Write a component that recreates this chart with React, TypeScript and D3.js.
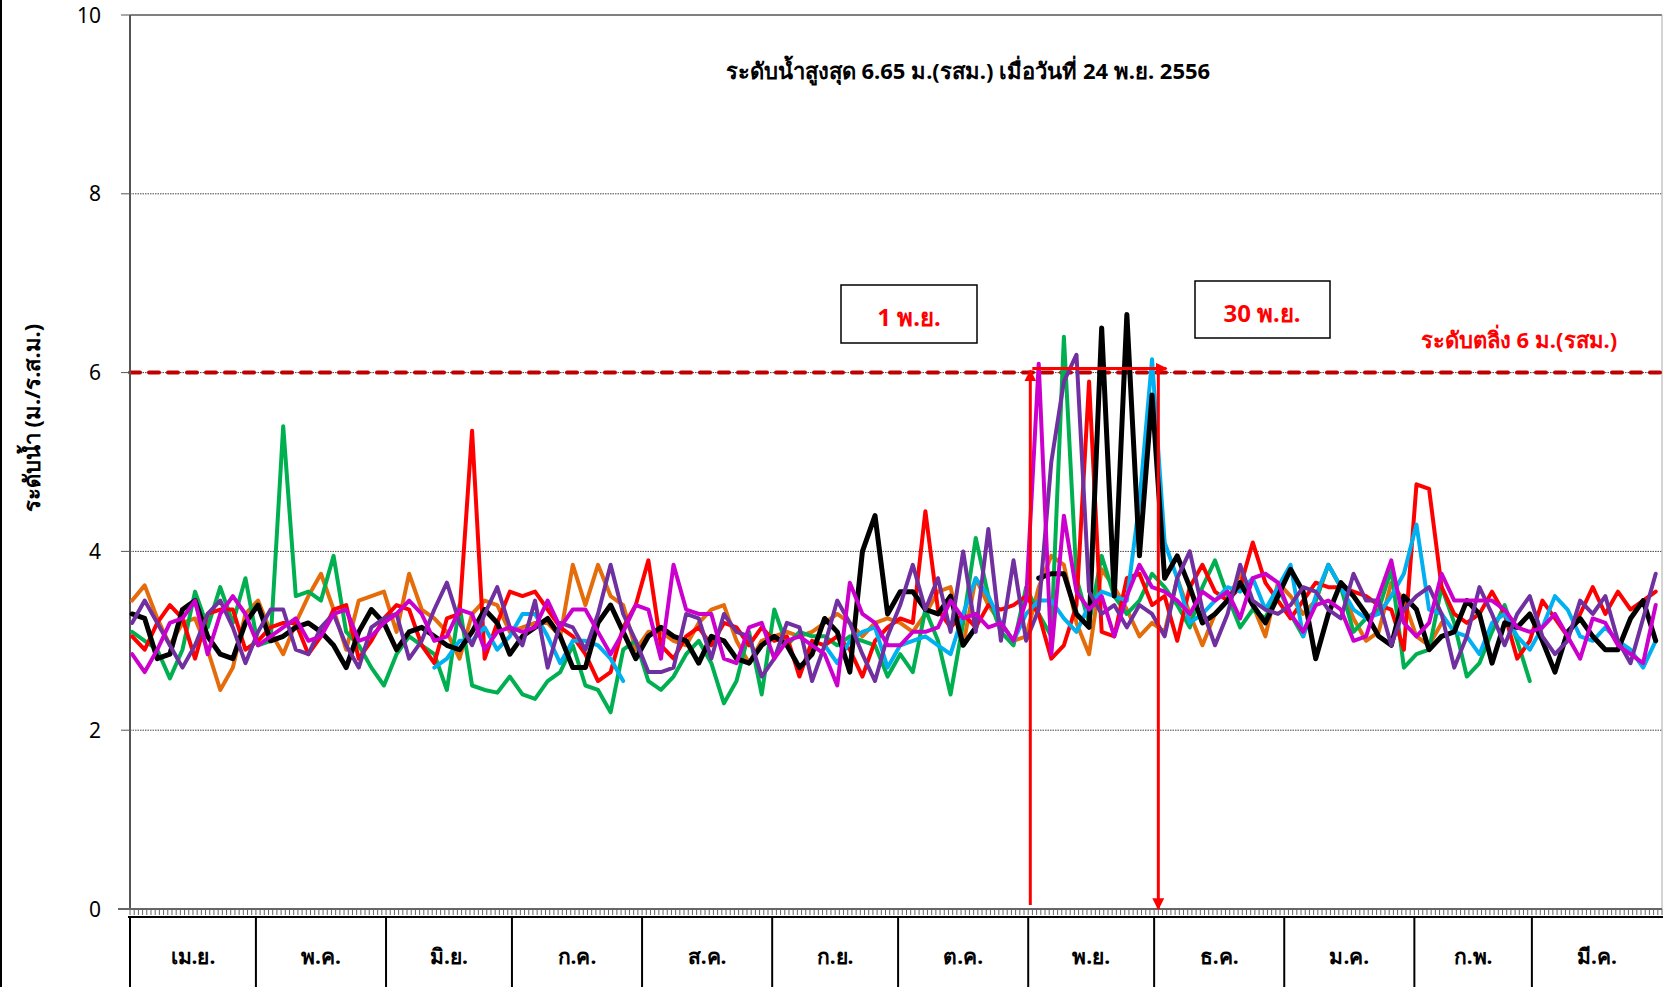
import * as d3 from "d3"

// water level (m. MSL), one reading every 3 days starting 1 Apr
const DAY_STEP = 3
const DAYS = 365

const monthNames = ["เม.ย.", "พ.ค.", "มิ.ย.", "ก.ค.", "ส.ค.", "ก.ย.", "ต.ค.", "พ.ย.", "ธ.ค.", "ม.ค.", "ก.พ.", "มี.ค."]
const monthDays = [30, 31, 30, 31, 31, 30, 31, 30, 31, 31, 28, 31]
const yTicks = [0, 2, 4, 6, 8, 10]

const N = null
const orange = [
    3.45, 3.62, 3.25, 2.95, 3.2, 3.25, 2.9, 2.45, 2.7, 3.3, 3.45, 3.1, 2.85, 3.2, 3.5, 3.75, 3.35, 2.9, 3.45, 3.5, 3.55, 3.1,
    3.75, 3.35, 3.25, 3.1, 2.8, 3.3, 3.45, 3.4, 3.1, 3.15, 3.2, 3.2, 3.05, 3.85, 3.4, 3.85, 3.5, 3.4, 2.9, 3.1,
    3.1, 3.0, 2.95, 3.2, 3.35, 3.4, 3.0, 2.75, 3.0, 3.05, 3.1, 3.05, 3.1, 3.2, 3.3, 3.2, 3.05, 3.2, 3.25, 3.2,
    3.1, 3.3, 3.55, 3.6, 2.95, 3.7, 3.4, 3.2, 3.0, 3.05, 3.6, 3.95, 3.85, 3.2, 2.85, 3.8, 3.6, 3.35, 3.05, 3.2, 3.1,
    3.7, 3.3, 2.95, 3.3, 3.45, 3.75, 3.4, 3.05, 3.65, 3.5, 3.3, 3.45, 3.85, 3.6, 3.25, 3.0, 3.1, 3.65, 3.45, 3.05,
    2.95, 3.2, N, N, N, N, N, N, N, N, N, N, N, N, N, N, N, N, N,
]
const green = [
    3.1, 3.0, 2.9, 2.58, 2.9, 3.55, 3.15, 3.6, 3.2, 3.7, 2.95, 3.0, 5.4, 3.5, 3.55, 3.45, 3.95, 3.1, 2.95, 2.7, 2.5, 2.85,
    3.05, 2.95, 2.85, 2.45, 3.4, 2.5, 2.45, 2.42, 2.6, 2.4, 2.35, 2.55, 2.65, 2.95, 2.5, 2.45, 2.2, 2.9, 3.0, 2.55,
    2.45, 2.6, 2.85, 3.0, 2.75, 2.3, 2.55, 3.1, 2.4, 3.35, 2.95, 3.1, 3.05, 3.05, 2.95, 3.05, 3.0, 2.95, 2.6, 2.85,
    2.65, 3.35, 3.0, 2.4, 3.2, 4.15, 3.5, 3.1, 2.95, 3.6, 3.3, 3.05, 6.4, 3.7, 3.2, 3.95, 3.5, 3.3, 3.45, 3.75, 3.6,
    3.4, 3.15, 3.6, 3.9, 3.5, 3.15, 3.35, 3.25, 3.6, 3.3, 3.05, 3.45, 3.85, 3.6, 3.1, 3.25, 3.35, 3.8, 2.7, 2.85,
    2.9, 3.6, 3.2, 2.6, 2.75, 3.1, 3.4, 3.0, 2.55, N, N, N, N, N, N, N, N, N, N,
]
const red = [
    3.05, 2.9, 3.2, 3.4, 3.25, 2.8, 3.3, 3.35, 3.35, 2.9, 3.0, 3.15, 3.2, 3.2, 2.85, 3.05, 3.35, 3.4, 2.8, 3.0, 3.25, 3.4,
    3.35, 2.95, 2.75, 3.25, 3.3, 5.35, 2.8, 3.2, 3.55, 3.5, 3.55, 3.35, 3.15, 3.05, 2.85, 2.55, 2.65, 3.15, 3.4, 3.9,
    2.95, 2.8, 3.05, 3.15, 2.95, 3.2, 3.15, 2.95, 3.15, 3.0, 3.05, 2.6, 3.0, 2.95, 3.05, 2.9, 2.6, 3.0, 3.15, 3.25,
    3.2, 4.45, 3.35, 3.15, 3.3, 3.15, 3.4, 3.35, 3.4, 3.5, 3.3, 2.8, 2.95, 3.4, 5.9, 3.1, 3.05, 3.7, 3.75, 3.4, 3.5,
    3.0, 3.6, 3.85, 3.55, 3.45, 3.6, 4.1, 3.65, 3.45, 3.25, 3.45, 3.65, 3.6, 3.6, 3.55, 3.5, 3.4, 3.35, 2.9, 4.75,
    4.7, 3.6, 3.3, 3.2, 3.3, 3.55, 3.3, 2.8, 3.0, 3.45, 3.25, 3.05, 3.3, 3.6, 3.3, 3.55, 3.35, 3.45, 3.55,
]
const cyan = [
    N, N, N, N, N, N, N, N, N, N, N, N, N, N, N, N, N, N, N, N, N, N,
    N, N, 2.7, 2.8, 3.0, 3.0, 3.15, 2.9, 3.05, 3.3, 3.3, 3.05, 2.75, 3.0, 3.0, 2.95, 2.8, 2.55, N, N,
    N, N, N, N, N, N, N, N, N, N, N, N, N, 2.95, 2.75, 3.0, 3.1, 3.15, 2.7, 2.95,
    3.0, 3.05, 2.95, 2.85, 3.3, 3.7, 3.5, 3.2, 3.0, 3.3, 3.45, 3.45, 3.25, 3.1, 3.4, 3.55, 3.5, 3.45, 4.55, 6.15, 4.1,
    3.7, 3.2, 3.3, 3.45, 3.6, 3.55, 3.7, 3.35, 3.6, 3.85, 3.05, 3.5, 3.85, 3.6, 3.35, 3.25, 3.3, 3.5, 3.75, 4.3,
    3.35, 3.3, 3.1, 3.05, 2.85, 3.2, 3.3, 3.05, 2.9, 3.15, 3.5, 3.35, 3.05, 3.0, 3.15, 3.0, 2.9, 2.7, 3.0,
]
const black = [
    3.3, 3.25, 2.8, 2.85, 3.35, 3.45, 3.05, 2.85, 2.8, 3.2, 3.4, 3.0, 3.05, 3.15, 3.2, 3.1, 2.95, 2.7, 3.1, 3.35, 3.2, 2.9,
    3.1, 3.15, 3.05, 2.95, 2.9, 3.1, 3.35, 3.2, 2.85, 3.05, 3.15, 3.25, 3.05, 2.7, 2.7, 3.2, 3.4, 3.1, 2.8, 3.05,
    3.15, 3.05, 3.0, 2.75, 3.05, 3.0, 2.8, 2.75, 2.95, 3.05, 2.95, 2.7, 2.85, 3.25, 3.1, 2.65, 4.0, 4.4, 3.3, 3.55,
    3.55, 3.35, 3.3, 3.5, 2.95, 3.15, N, N, N, N, 3.7, 3.75, 3.75, 3.3, 3.15, 6.5, 3.5, 6.65, 3.95, 5.75, 3.7,
    3.95, 3.6, 3.2, 3.3, 3.45, 3.65, 3.4, 3.2, 3.5, 3.8, 3.55, 2.8, 3.3, 3.65, 3.5, 3.3, 3.05, 2.95, 3.5, 3.35,
    2.9, 3.05, 3.1, 3.45, 3.3, 2.75, 3.2, 3.15, 3.3, 3.0, 2.65, 3.1, 3.25, 3.05, 2.9, 2.9, 3.25, 3.45, 3.0,
]
const purple = [
    3.2, 3.45, 3.2, 2.95, 2.7, 2.95, 3.3, 3.45, 3.15, 2.75, 3.1, 3.35, 3.35, 2.9, 2.85, 3.15, 3.3, 2.95, 2.7, 3.15, 3.25, 3.3,
    2.8, 3.0, 3.35, 3.65, 3.2, 2.95, 3.3, 3.6, 3.15, 2.95, 3.45, 2.7, 3.2, 3.15, 2.9, 3.3, 3.85, 3.3, 3.0, 2.65,
    2.65, 2.7, 3.3, 3.25, 2.8, 3.3, 3.1, 3.05, 2.6, 2.8, 3.2, 3.15, 2.55, 2.95, 3.45, 3.2, 2.85, 2.55, 3.05, 3.4,
    3.85, 3.35, 3.7, 3.1, 4.0, 3.1, 4.25, 3.0, 3.9, 3.0, 3.35, 5.0, 5.9, 6.2, 3.55, 3.3, 3.4, 3.15, 3.4, 3.3, 3.05,
    3.7, 4.0, 3.35, 2.95, 3.3, 3.85, 3.45, 3.35, 3.3, 3.4, 3.6, 3.55, 3.35, 3.25, 3.75, 3.45, 3.45, 2.95, 3.35, 3.5,
    3.6, 3.3, 2.7, 3.05, 3.6, 3.3, 2.95, 3.3, 3.5, 3.05, 2.85, 3.0, 3.45, 3.3, 3.5, 3.0, 2.75, 3.25, 3.75,
]
const magenta = [
    2.85, 2.65, 2.9, 3.2, 3.25, 3.45, 2.85, 3.3, 3.5, 3.3, 2.95, 3.05, 3.15, 3.25, 3.0, 3.05, 3.3, 3.35, 3.0, 3.05, 3.2, 3.3,
    3.45, 3.3, 3.0, 3.05, 3.35, 3.3, 2.9, 3.1, 3.15, 3.1, 3.15, 3.45, 3.15, 3.35, 3.35, 3.1, 2.85, 3.1, 3.4, 3.35,
    2.8, 3.85, 3.35, 3.3, 3.3, 2.8, 2.75, 3.15, 3.2, 2.8, 3.0, 3.05, 2.95, 2.85, 2.5, 3.65, 3.3, 3.2, 2.95, 2.95,
    3.1, 3.1, 3.15, 3.45, 3.25, 3.3, 3.15, 3.2, 3.0, 3.45, 6.1, 2.85, 4.4, 3.55, 3.35, 3.5, 3.05, 3.5, 3.85, 3.6, 3.55,
    3.45, 3.3, 3.55, 3.45, 3.55, 3.25, 3.7, 3.75, 3.65, 3.3, 3.1, 3.4, 3.45, 3.35, 3.0, 3.05, 3.5, 3.9, 3.2, 3.05,
    3.2, 3.75, 3.45, 3.45, 3.45, 3.45, 3.35, 3.15, 3.1, 3.15, 3.3, 3.05, 2.8, 3.25, 3.2, 2.95, 2.85, 2.75, 3.4,
]

const series = [
    { values: orange, color: "#E46C0A", width: 4 },
    { values: green, color: "#00B050", width: 4 },
    { values: red, color: "#FF0000", width: 4 },
    { values: cyan, color: "#00B0F0", width: 4 },
    { values: black, color: "#000000", width: 5 },
    { values: purple, color: "#7030A0", width: 4 },
    { values: magenta, color: "#CC00CC", width: 4 },
]

const bankLevel = 6
const floodStartDay = 214 // 1 พ.ย.
const floodEndDay = 245 // 30 พ.ย.

const W = 1663
const H = 987
const left = 130
const right = 1662
const top = 15
const bottom = 909
const font = "Tahoma, 'Noto Sans', 'DejaVu Sans', sans-serif"

export default function App() {
    const x = d3.scaleLinear().domain([0, DAYS]).range([left, right])
    const y = d3.scaleLinear().domain([0, 10]).range([bottom, top])
    const xDay = (d: number) => x(d + 0.5)

    const line = d3.line<number | null>()
        .defined((v) => v != null)
        .x((_, i) => xDay(i * DAY_STEP))
        .y((v) => y(v as number))

    const monthStarts = d3.cumsum([0, ...monthDays.slice(0, -1)])
    const dayTicks = d3.range(DAYS + 1)

    const xa = xDay(floodStartDay)
    const xb = x(floodEndDay)
    const yArrow = y(bankLevel) - 4

    return (
        <div style={{ position: "absolute", left: 0, top: 0 }}>
            <svg width={W} height={H} style={{ display: "block", fontFamily: font }}>
                <defs>
                    <marker id="ah" viewBox="0 0 10 10" refX="9" refY="5" markerWidth="4" markerHeight="4" orient="auto">
                        <path d="M0,0 L10,5 L0,10 z" fill="#FF0000" />
                    </marker>
                </defs>
                <rect width={W} height={H} fill="#fff" />
                <line x1={1} x2={1} y1={0} y2={H} stroke="#000" strokeWidth={2} />

                {/* grid */}
                {yTicks.filter((t) => t > 0 && t < 10).map((t) => (
                    <line key={t} x1={left} x2={right} y1={y(t)} y2={y(t)} stroke="#444" strokeWidth={1} strokeDasharray="1.5,1" />
                ))}
                <line x1={left} x2={right} y1={y(10)} y2={y(10)} stroke="#808080" strokeWidth={2} />
                <line x1={right} x2={right} y1={y(10)} y2={y(0)} stroke="#aaa" strokeWidth={1} />

                {/* bank level */}
                <line x1={left} x2={right} y1={y(bankLevel)} y2={y(bankLevel)} stroke="#C00000" strokeWidth={4}
                    strokeDasharray="10,9" strokeLinecap="round" />
                <text x={1519} y={y(bankLevel) - 25} textAnchor="middle" fill="#FF0000" fontSize={22} fontWeight="bold">
                    ระดับตลิ่ง 6 ม.(รสม.)
                </text>

                {/* y axis */}
                <line x1={left} x2={left} y1={y(10)} y2={y(0)} stroke="#555" strokeWidth={2} />
                {yTicks.map((t) => (
                    <g key={t}>
                        <line x1={left - 9} x2={left} y1={y(t)} y2={y(t)} stroke="#555" strokeWidth={1} />
                        <text x={101} y={y(t)} dy="0.36em" textAnchor="end" fontSize={21}>{t}</text>
                    </g>
                ))}
                <text transform={`translate(40,${418}) rotate(-90)`} textAnchor="middle" fontSize={22} fontWeight="bold">
                    ระดับน้ำ  (ม./ร.ส.ม.)
                </text>

                {/* series */}
                {series.map((s, i) => (
                    <path key={i} d={line(s.values) ?? ""} fill="none" stroke={s.color} strokeWidth={s.width}
                        strokeLinejoin="round" strokeLinecap="round" />
                ))}

                {/* x axis */}
                <line x1={left - 12} x2={right} y1={bottom} y2={bottom} stroke="#666" strokeWidth={2} />
                {dayTicks.map((d) => (
                    <line key={d} x1={x(d)} x2={x(d)} y1={bottom} y2={bottom + 6} stroke="#666" strokeWidth={1} />
                ))}
                <line x1={left - 2} x2={W} y1={917} y2={917} stroke="#000" strokeWidth={2} />
                {monthNames.map((m, i) => {
                    const x0 = x(monthStarts[i])
                    const x1 = x(monthStarts[i] + monthDays[i])
                    return (
                        <g key={m}>
                            <line x1={x0} x2={x0} y1={917} y2={H} stroke="#000" strokeWidth={2} />
                            <text x={(x0 + x1) / 2} y={957} dy="0.35em" textAnchor="middle" fontSize={21} fontWeight="bold">{m}</text>
                        </g>
                    )
                })}

                {/* flood period arrows */}
                <line x1={xa} x2={xa} y1={bottom - 4} y2={yArrow + 2} stroke="#FF0000" strokeWidth={3} markerEnd="url(#ah)" />
                <line x1={xa + 2} x2={xb + 8} y1={yArrow} y2={yArrow} stroke="#FF0000" strokeWidth={3} markerEnd="url(#ah)" />
                <line x1={xb} x2={xb} y1={yArrow} y2={bottom} stroke="#FF0000" strokeWidth={3} markerEnd="url(#ah)" />

                {/* notes */}
                <rect x={841} y={285} width={136} height={58} fill="#fff" stroke="#000" strokeWidth={1.5} />
                <text x={909} y={318} dy="0.35em" textAnchor="middle" fill="#FF0000" fontSize={24} fontWeight="bold">1 พ.ย.</text>
                <rect x={1195} y={281} width={135} height={57} fill="#fff" stroke="#000" strokeWidth={1.5} />
                <text x={1262} y={314} dy="0.35em" textAnchor="middle" fill="#FF0000" fontSize={24} fontWeight="bold">30 พ.ย.</text>

                <text x={968} y={71} dy="0.35em" textAnchor="middle" fontSize={22} fontWeight="bold">
                    ระดับน้ำสูงสุด 6.65 ม.(รสม.) เมื่อวันที่ 24 พ.ย. 2556
                </text>
            </svg>
        </div>
    )
}
